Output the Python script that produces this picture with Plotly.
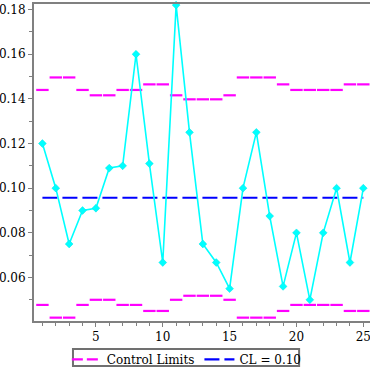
import plotly.graph_objects as go

samples = list(range(1, 26))
p_values = [0.12, 0.10, 0.075, 0.09, 0.091, 0.109, 0.11, 0.16, 0.111, 0.0667,
            0.182, 0.125, 0.075, 0.0667, 0.055, 0.10, 0.125, 0.0875, 0.056, 0.08,
            0.05, 0.08, 0.10, 0.0667, 0.10]
ucl = [0.144, 0.1496, 0.1496, 0.144, 0.1416, 0.1416, 0.144, 0.144, 0.1465, 0.1465,
       0.1416, 0.1398, 0.1398, 0.1398, 0.1416, 0.1496, 0.1496, 0.1496, 0.1465, 0.144,
       0.144, 0.144, 0.144, 0.1465, 0.1465]
lcl = [0.0477, 0.0420, 0.0420, 0.0477, 0.0500, 0.0500, 0.0477, 0.0477, 0.0450, 0.0450,
       0.0500, 0.0518, 0.0518, 0.0518, 0.0500, 0.0420, 0.0420, 0.0420, 0.0450, 0.0477,
       0.0477, 0.0477, 0.0477, 0.0450, 0.0450]
center_line = 0.0957
cl_label = "CL = 0.10"

FONT = "DejaVu Serif"
MAG = "#ff00ff"
HALF = 0.465

seg_x, seg_y = [], []
for lim in (ucl, lcl):
    for s, v in zip(samples, lim):
        seg_x += [s - HALF, s + HALF, None]
        seg_y += [v, v, None]

fig = go.Figure()
fig.add_trace(go.Scatter(x=seg_x, y=seg_y, mode="lines",
                         line=dict(color=MAG, width=2.2),
                         showlegend=False, legendgroup="cl", hoverinfo="skip"))
fig.add_trace(go.Scatter(x=[None], y=[None], mode="lines", name="Control Limits",
                         line=dict(color=MAG, width=2.2, dash="11px,4px"),
                         legendgroup="cl"))
fig.add_trace(go.Scatter(x=[samples[0], samples[-1]], y=[center_line, center_line],
                         mode="lines", name=cl_label,
                         line=dict(color="#0000ff", width=2.2, dash="15px,5px")))
fig.add_trace(go.Scatter(x=samples, y=p_values, mode="lines+markers",
                         line=dict(color="#00ffff", width=1.6),
                         marker=dict(symbol="diamond", size=6, color="#00ffff",
                                     line=dict(color="#00e5e5", width=0.5)),
                         showlegend=False, cliponaxis=False))

fig.update_layout(
    width=370, height=370,
    margin=dict(l=34, r=0, t=4, b=49, autoexpand=False),
    paper_bgcolor="white", plot_bgcolor="white",
    font=dict(family=FONT, size=12, color="black"),
    showlegend=True,
    legend=dict(orientation="h", xref="container", yref="paper",
                x=0.505, xanchor="center", y=-0.121, yanchor="middle",
                borderwidth=0, bgcolor="rgba(0,0,0,0)",
                font=dict(family=FONT, size=12), itemwidth=30,
                tracegroupgap=0),
    shapes=[dict(type="rect", xref="paper", yref="paper",
                 x0=0.116, x1=0.789, y0=-0.142, y1=-0.0883,
                 line=dict(color="#707070", width=2), layer="above")],
)
fig.update_xaxes(range=[0.37, 25.5], showgrid=False, zeroline=False, automargin=False,
                 showline=True, linecolor="#808080", linewidth=2, mirror=True,
                 ticks="outside", ticklen=4, tickcolor="#808080", tickwidth=1,
                 tick0=0, dtick=5, ticklabeloverflow="allow",
                 minor=dict(ticks="outside", ticklen=3, dtick=1, tick0=0,
                            tickcolor="#808080"),
                 tickfont=dict(family=FONT, size=12))
fig.update_yaxes(range=[0.0405, 0.1825], showgrid=False, zeroline=False, automargin=False,
                 showline=True, linecolor="#808080", linewidth=2, mirror=False,
                 ticks="outside", ticklen=4, tickcolor="#808080", tickwidth=1,
                 tickvals=[0.06, 0.08, 0.10, 0.12, 0.14, 0.16, 0.18],
                 tickformat=".2f", ticklabeloverflow="allow",
                 minor=dict(ticks="outside", ticklen=3,
                            tickvals=[0.05, 0.07, 0.09, 0.11, 0.13, 0.15, 0.17],
                            tickcolor="#808080"),
                 tickfont=dict(family=FONT, size=12))

fig.write_html("out.html", config={"displayModeBar": False},
               post_script="document.body.style.margin='0';document.body.style.padding='0';")
